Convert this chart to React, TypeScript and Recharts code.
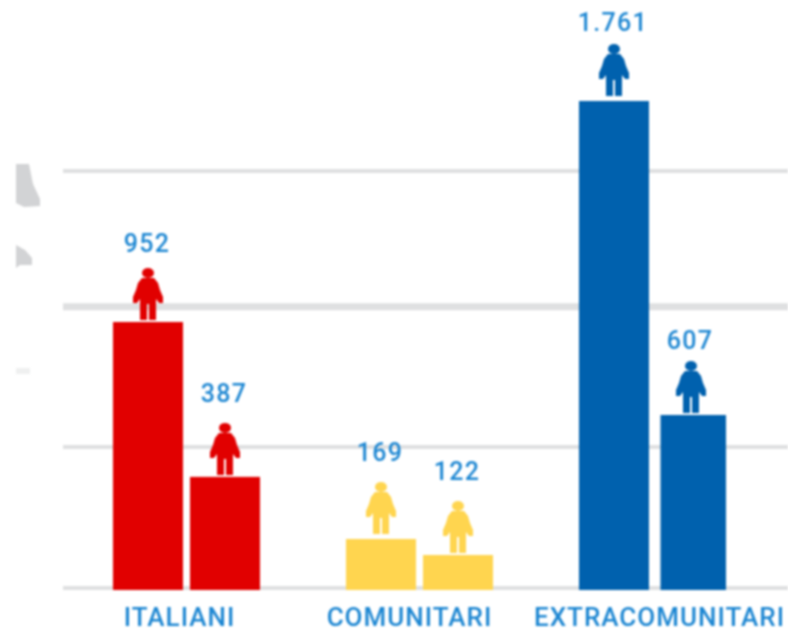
import * as React from "react"
import { Bar, BarChart, CartesianGrid, Cell, LabelList, XAxis, YAxis } from "recharts"

const categories = ["ITALIANI", "COMUNITARI", "EXTRACOMUNITARI"]

// Bar lengths as measured on the picture; the printed figures are not quite proportional to them.
const firstBarValues = [957, 182, 1746]
const secondBarValues = [404, 125, 625]
const firstBarLabels = ["952", "169", "1.761"]
const secondBarLabels = ["387", "122", "607"]

const gridValues = [7, 511, 1012, 1496]
const categoryColors = ["#e10000", "#ffd54f", "#0061ae"]

const chartData = categories.map((name, i) => ({
  name,
  first: firstBarValues[i],
  second: secondBarValues[i],
}))

const LABEL_COLOR = "#1c86d2"
const FONT = "Roboto, sans-serif"

// Per-label tweaks, the figures and icons don't sit at one fixed distance from their bars.
const firstLabelLift = [0, 8, 0]
const secondLabelLift = [5, 5, -4]
const firstIconLift = [0, 3, 3]
const secondIconLift = [0, 0, 0]

function PersonLabel({ x, y, width, index, labels, lift, iconLift }: any) {
  const cx = x + width / 2
  const color = categoryColors[index]
  return (
    <g>
      <text
        x={cx - 1}
        y={y - 70 - lift[index]}
        textAnchor="middle"
        fill={LABEL_COLOR}
        fontFamily={FONT}
        fontSize={25}
        fontWeight={500}
        letterSpacing={1.3}
      >
        {labels[index]}
      </text>
      <g transform={`translate(${cx - 15}, ${y - 54 - iconLift[index]})`} fill={color}>
        <ellipse cx={15} cy={5} rx={6} ry={5} />
        <path d="M9 10 H21 L25 15 L27 22 L30 29 V35 H26 L23 31 V52 H16 V36 H14 V52 H7 V31 L4 35 H0 V29 L3 22 L5 15 Z" />
      </g>
    </g>
  )
}

function NudgedBar({ x, y, width, height, fill, index }: any) {
  // The last bar sits a little further right and is narrower than its neighbours.
  const shift = index === 2 ? 4.5 : 0
  return <rect x={x + shift} y={y} width={width - shift} height={height} fill={fill} />
}

function CategoryTick({ x, y, payload }: any) {
  const dx = [-7, -10, 7][payload.index] ?? 0
  return (
    <text
      x={x + dx}
      y={y + 28}
      textAnchor="middle"
      fill={LABEL_COLOR}
      fontFamily={FONT}
      fontSize={26}
      fontWeight={500}
      letterSpacing={1}
    >
      {payload.value}
    </text>
  )
}

function GridLine({ x1, x2, y1, y2 }: any) {
  return (
    <line
      x1={x1}
      x2={x2}
      y1={y1}
      y2={y2}
      stroke="#dfe0e1"
      strokeWidth={y1 > 300 && y1 < 310 ? 7 : 4}
    />
  )
}

function SideSmudges() {
  // Cropped, unreadable remains at the left edge of the picture.
  return (
    <svg
      width={60}
      height={400}
      style={{ position: "absolute", left: 0, top: 0 }}
      fill="#d2d3d5"
    >
      <path d="M16 164 H29 L33 184 L40 199 V206 L24 207 L16 203 Z" />
      <path d="M16 245 L25 250 L32 258 V265 H20 L16 268 Z" />
      <path d="M16 368 H30 V374 H16 Z" opacity={0.35} />
    </svg>
  )
}

export default function App() {
  return (
    <div
      style={{
        position: "absolute",
        left: 0,
        top: 0,
        width: 788,
        height: 632,
        filter: "blur(0.8px)",
      }}
    >
      <SideSmudges />
      <BarChart
        width={788}
        height={632}
        data={chartData}
        margin={{ top: 30, right: 0, bottom: 0, left: 63 }}
        barSize={70}
        barGap={7}
      >
        <CartesianGrid
          vertical={false}
          horizontalValues={gridValues}
          horizontal={(props: any) => <GridLine key={props.y1} {...props} />}
        />
        <XAxis
          dataKey="name"
          axisLine={false}
          tickLine={false}
          height={42}
          padding={{ left: 7, right: 19 }}
          interval={0}
          tick={<CategoryTick />}
        />
        <YAxis hide domain={[0, 2000]} />
        <Bar dataKey="first" isAnimationActive={false}>
          {categories.map((name, i) => (
            <Cell key={name} fill={categoryColors[i]} />
          ))}
          <LabelList
            dataKey="first"
            content={(props: any) => (
              <PersonLabel
                {...props}
                labels={firstBarLabels}
                lift={firstLabelLift}
                iconLift={firstIconLift}
              />
            )}
          />
        </Bar>
        <Bar dataKey="second" isAnimationActive={false} shape={<NudgedBar />}>
          {categories.map((name, i) => (
            <Cell key={name} fill={categoryColors[i]} />
          ))}
          <LabelList
            dataKey="second"
            content={(props: any) => (
              <PersonLabel
                {...props}
                labels={secondBarLabels}
                lift={secondLabelLift}
                iconLift={secondIconLift}
              />
            )}
          />
        </Bar>
      </BarChart>
    </div>
  )
}
